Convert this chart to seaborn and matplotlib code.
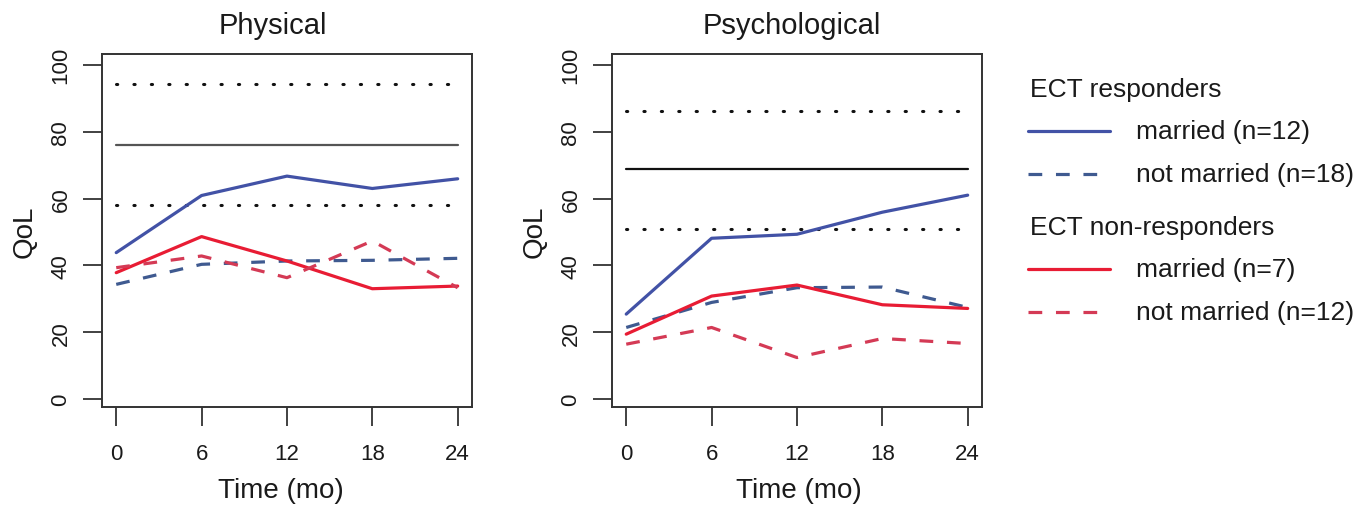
import numpy as np
import pandas as pd
import matplotlib
matplotlib.use("Agg")
import matplotlib.pyplot as plt
from matplotlib.lines import Line2D
import seaborn as sns

# time points (months)
months = [0, 6, 12, 18, 24]

# Physical domain
phys_resp_married = [43.8, 60.9, 66.7, 63.0, 65.9]
phys_resp_single = [34.3, 40.3, 41.3, 41.5, 42.1]
phys_nonresp_married = [37.8, 48.6, 41.3, 33.0, 33.8]
phys_nonresp_single = [39.3, 42.8, 36.3, 47.3, 33.3]
phys_ref = {"mean": 76.1, "lo": 58.0, "hi": 94.2}

# Psychological domain
psy_resp_married = [25.4, 48.1, 49.3, 55.9, 61.0]
psy_resp_single = [21.4, 28.9, 33.3, 33.5, 27.4]
psy_nonresp_married = [19.4, 30.8, 34.1, 28.2, 27.1]
psy_nonresp_single = [16.4, 21.4, 12.4, 18.1, 16.6]
psy_ref = {"mean": 68.7, "lo": 51.0, "hi": 86.1}

series_labels = ["married (n=12)", "not married (n=18)", "married (n=7)", "not married (n=12)"]
colors = ["#4252a6", "#3f5a90", "#e81c34", "#d43a55"]
dashes = ["-", (0, (4.3, 4.3)), "-", (0, (4.3, 4.3))]

sns.set_style("white")
plt.rcParams["font.family"] = ["Liberation Sans", "DejaVu Sans"]
ink = "#1a1a1a"
plt.rcParams.update({"text.color": ink, "axes.labelcolor": ink,
                     "xtick.color": ink, "ytick.color": ink})

fig = plt.figure(figsize=(13.71, 5.06), dpi=100)
ax1 = fig.add_axes([0.0744, 0.193, 0.2698, 0.698])
ax2 = fig.add_axes([0.4464, 0.193, 0.2698, 0.698])

panels = [
    (ax1, "Physical", [phys_resp_married, phys_resp_single, phys_nonresp_married, phys_nonresp_single],
     phys_ref, "#555555", 0.462, 0.484),
    (ax2, "Psychological", [psy_resp_married, psy_resp_single, psy_nonresp_married, psy_nonresp_single],
     psy_ref, "#111111", 0.486, 0.505),
]

for ax, title, series, ref, refcol, tx, lx in panels:
    # population norm and bounds
    ax.plot([months[0], months[-1]], [ref["mean"]] * 2, color=refcol, lw=1.6)
    for k in ("lo", "hi"):
        ax.plot([months[0], months[-1]], [ref[k]] * 2, color="#111111", lw=2.2,
                linestyle=(0, (0.4, 5.3)), dash_capstyle="round")
    for vals, col, ls in zip(series, colors, dashes):
        df = pd.DataFrame({"month": months, "qol": vals})
        sns.lineplot(data=df, x="month", y="qol", ax=ax, color=col, lw=2.3, linestyle=ls)
    ax.set_xlim(-1, 25)
    ax.set_ylim(-2.5, 103.2)
    ax.set_xticks(months)
    ax.set_yticks([0, 20, 40, 60, 80, 100])
    ax.set_yticklabels([0, 20, 40, 60, 80, 100], rotation=90, va="center")
    ax.tick_params(axis="both", direction="out", length=14, width=1.3, color="#333333",
                   labelsize=16, left=True, bottom=True)
    ax.tick_params(axis="x", pad=12)
    ax.tick_params(axis="y", pad=8)
    for s in ax.spines.values():
        s.set_visible(True)
        s.set_color("#333333")
        s.set_linewidth(1.4)
    ax.set_xlabel("Time (mo)", fontsize=20, labelpad=9, x=lx)
    ax.set_ylabel("QoL", fontsize=20, labelpad=9)
    ax.set_title(title, fontsize=21, pad=15, x=tx)

# legend drawn in figure coordinates
W, H = 1371, 506
def fx(x):
    return x / W
def fy(y):
    return 1 - y / H

fig.text(fx(1030), fy(90), "ECT responders", fontsize=19, va="center")
fig.text(fx(1030), fy(228), "ECT non-responders", fontsize=19, va="center")
rows = [132, 175, 270, 313]
for y, lab, col, ls in zip(rows, series_labels, colors, dashes):
    fig.add_artist(Line2D([fx(1028), fx(1110)], [fy(y), fy(y)], color=col, lw=2.3, linestyle=ls))
    fig.text(fx(1136), fy(y), lab, fontsize=19, va="center")

fig.savefig("out.png", dpi=100)
